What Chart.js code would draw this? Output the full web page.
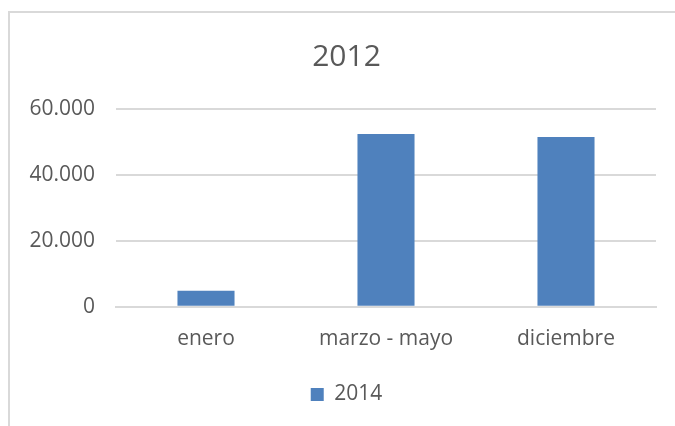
<!DOCTYPE html>
<html>
<head>
<meta charset="utf-8">
<script src="https://cdn.jsdelivr.net/npm/chart.js@4"></script>
<style>
  html, body { margin: 0; padding: 0; background: #fff; overflow: hidden; width: 675px; height: 426px; }
  #box { position: absolute; left: 8px; top: 11px; width: 700px; height: 440px;
         border-left: 2px solid #d9d9d9; border-top: 2px solid #d9d9d9; }
  #wrap { position: absolute; left: 0; top: 0; width: 673px; height: 402px; }
</style>
</head>
<body>
<div id="box"><div id="wrap"><canvas id="myChart"></canvas></div></div>
<script>
var categories = ["enero", "marzo - mayo", "diciembre"];
var series2014 = [4900, 52400, 51500];
var yTicks = [0, 20000, 40000, 60000];

document.addEventListener("DOMContentLoaded", function(){
var ctx = document.getElementById("myChart");
var textColor = "#595959";
var font = "'Open Sans', sans-serif";

function fmt(v){
  return String(v).replace(/\B(?=(\d{3})+(?!\d))/g, ".");
}

var myChart = new Chart(ctx, {
  type: 'bar',
  data: {
    labels: categories,
    datasets: [{
      label: '2014',
      data: series2014,
      backgroundColor: "#4F81BD",
      barPercentage: 0.317,
      categoryPercentage: 1
    }]
  },
  options: {
    responsive: true,
    maintainAspectRatio: false,
    animation: false,
    layout: { padding: 0 },
    plugins: {
      title: {
        display: true,
        text: '2012',
        color: textColor,
        font: { family: font, size: 30, weight: 'normal' },
        padding: { top: 26, bottom: 34 }
      },
      legend: {
        position: 'bottom',
        labels: {
          color: textColor,
          font: { family: font, size: 21 },
          boxWidth: 13,
          boxHeight: 13,
          padding: 20
        }
      },
      tooltip: { enabled: false }
    },
    scales: {
      x: {
        grid: { display: false },
        border: { display: true, color: "#d9d9d9", width: 2 },
        ticks: { color: textColor, font: { family: font, size: 21 }, padding: 12 }
      },
      y: {
        min: 0,
        max: 60000,
        afterFit: function(scale){ scale.width = 106; },
        afterBuildTicks: function(scale){
          scale.ticks = yTicks.map(function(v){ return { value: v }; });
        },
        grid: { color: "#d9d9d9", lineWidth: 2, drawTicks: false },
        border: { display: false },
        ticks: {
          color: textColor,
          font: { family: font, size: 21 },
          padding: 21,
          callback: function(v){ return fmt(v); }
        }
      },
      // empty right-hand axis, only reserves the blank margin right of the plot
      yRight: {
        position: 'right',
        grid: { display: false },
        border: { display: false },
        ticks: { display: false },
        afterFit: function(scale){ scale.width = 27; }
      }
    }
  }
});
}, false);
</script>
</body>
</html>
